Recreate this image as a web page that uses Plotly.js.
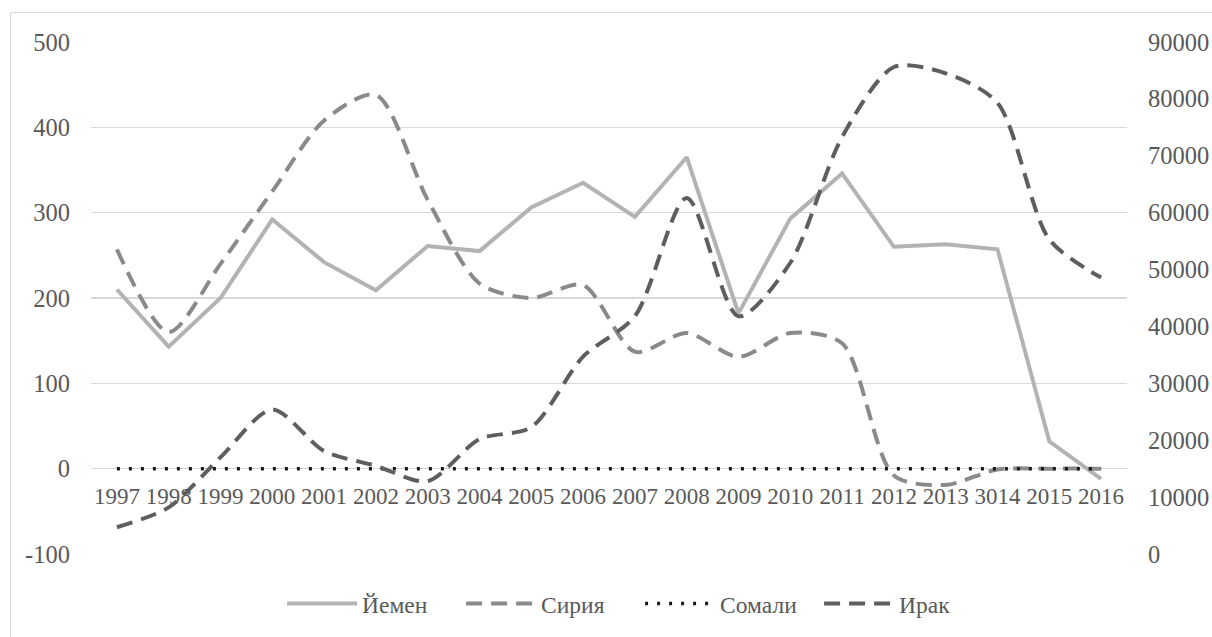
<!DOCTYPE html>
<html><head><meta charset="utf-8">
<script src="https://cdn.plot.ly/plotly-3.0.1.min.js"></script>
<style>
html,body{margin:0;padding:0;background:#fff;overflow:hidden;}
#frame{position:absolute;left:10px;top:12px;width:1210px;height:630px;border:1px solid #d9d9d9;box-sizing:border-box;}
#chart{width:1208px;height:628px;}
</style></head>
<body><div id="frame"><div id="chart"></div></div>
<script>
const years = ['1997','1998','1999','2000','2001','2002','2003','2004','2005','2006','2007','2008','2009','2010','2011','2012','2013','3014','2015','2016'];
const yemen  = [210,143,200,292,242,209,261,255,306,335,295,365,182,293,346,260,263,257,32,-12];
const syria  = [257,160,240,325,408,438,315,217,200,215,137,159,131,159,147,-8,-19,-1,0,0];
const somali = [0,0,0,0,0,0,0,0,0,0,0,0,0,0,0,0,0,0,0,0];
const iraq   = [4700,8200,17000,25400,18100,15500,12800,20200,22300,34700,41800,62600,41800,51200,73300,85600,84500,79300,55300,48600];
const leftTickVals  = [-100,0,100,200,300,400,500];
const leftTickText  = ['-100','0','100','200','300','400','500'];

const FONT = 'Liberation Serif';
const traces = [
  {x: years, y: yemen, name: 'Йемен', type: 'scatter', mode: 'lines',
   line: {color: '#b3b3b3', width: 4}},
  {x: years, y: syria, name: 'Сирия', type: 'scatter', mode: 'lines',
   line: {color: '#8a8a8a', width: 4, dash: '16px,9px', shape: 'spline', smoothing: 0.8}},
  {x: years, y: somali, name: 'Сомали', type: 'scatter', mode: 'lines',
   line: {color: '#1a1a1a', width: 3.5, dash: '3px,9px'}},
  {x: years, y: iraq, name: 'Ирак', type: 'scatter', mode: 'lines', yaxis: 'y2',
   line: {color: '#5e5e5e', width: 4, dash: '16px,9px', shape: 'spline', smoothing: 0.8}}
];

const layout = {
  width: 1208, height: 628,
  margin: {l: 80, r: 92, t: 29, b: 87},
  paper_bgcolor: '#fff', plot_bgcolor: '#fff',
  font: {family: FONT, color: '#595959', size: 23},
  showlegend: true,
  legend: {orientation: 'h', x: 0.53, xanchor: 'center', y: -0.097, yanchor: 'middle',
           font: {family: FONT, size: 23.5, color: '#595959'}, itemwidth: 70, entrywidth: 94, traceorder: 'normal'},
  xaxis: {type: 'category', range: [-0.5, 19.5], anchor: 'free', position: 1/6,
          showgrid: false, showline: false, zeroline: false, ticks: '',
          tickfont: {family: FONT, size: 23, color: '#595959'}, ticklabelstandoff: 11, fixedrange: true},
  yaxis: {range: [-100, 500], tickmode: 'array', tickvals: leftTickVals, ticktext: leftTickText,
          showgrid: true, gridcolor: '#d9d9d9', gridwidth: 1.5,
          zeroline: false, showline: false, ticks: '', ticklabelstandoff: 20,
          tickfont: {family: FONT, size: 24.5, color: '#595959'}},
  yaxis2: {range: [0, 90000], dtick: 10000, tick0: 0, tickformat: 'd', overlaying: 'y', side: 'right', showgrid: false,
           zeroline: false, showline: false, ticks: '', ticklabelstandoff: 20,
           tickfont: {family: FONT, size: 24.5, color: '#595959'}}
};

Plotly.newPlot('chart', traces, layout, {displayModeBar: false, staticPlot: true});
</script></body></html>
